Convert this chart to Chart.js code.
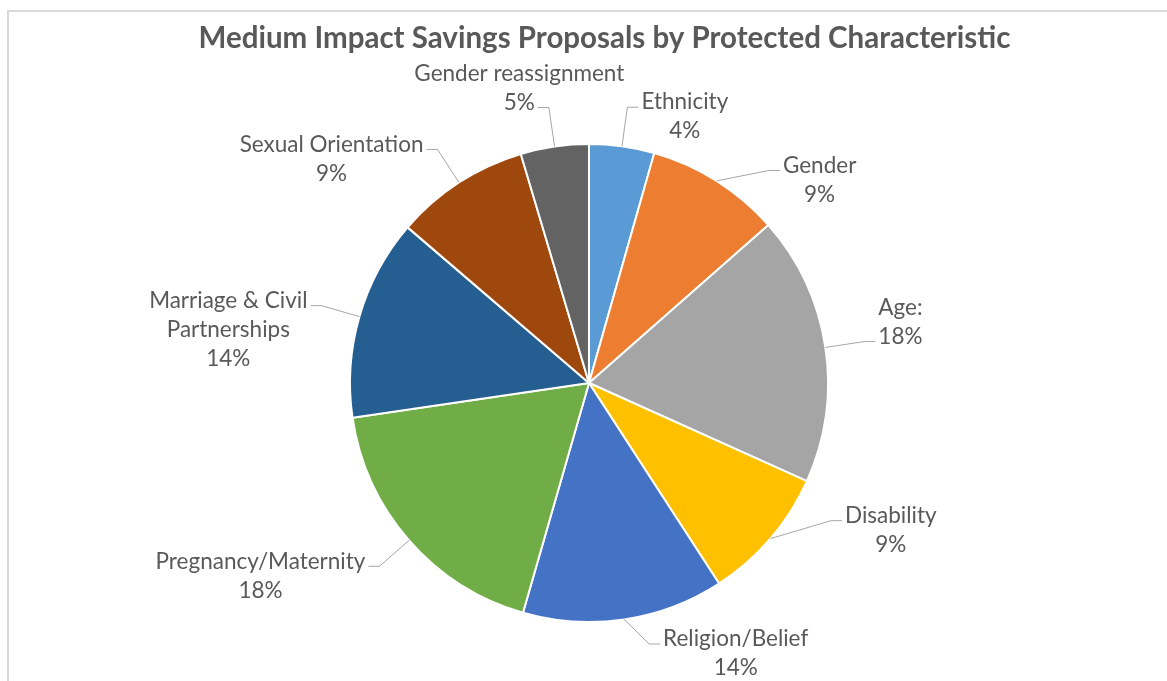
<!DOCTYPE html>
<html>
<head>
<meta charset="utf-8">
<script src="https://cdn.jsdelivr.net/npm/chart.js@4.4.0/dist/chart.umd.min.js"></script>
<style>
  body { margin: 0; background: #fff; }
  #frame { position: absolute; left: 7px; top: 10px; width: 1300px; height: 800px; border: 2px solid #d9d9d9; }
  #wrap { position: absolute; left: 0; top: 0; width: 1167px; height: 681px; }
</style>
</head>
<body>
<div id="frame"></div>
<div id="wrap"><canvas id="pie"></canvas></div>
<script>
// Данные графика
const chartTitle = "Medium Impact Savings Proposals by Protected Characteristic";
const categories = [
    "Ethnicity",
    "Gender",
    "Age:",
    "Disability",
    "Religion/Belief",
    "Pregnancy/Maternity",
    ["Marriage & Civil", "Partnerships"],
    "Sexual Orientation",
    "Gender reassignment",
];
const shares = [4.4, 9.1, 18.2, 9.1, 13.6, 18.2, 13.6, 9.1, 4.6];

// Цвета секторов
const sliceColors = [
    "#5b9bd5",
    "#ed7d31",
    "#a5a5a5",
    "#ffc000",
    "#4472c4",
    "#70ad47",
    "#255e91",
    "#9e480e",
    "#636363",
];

// подпись над выноской (true) или под ней (false)
const labelAbove = [false, false, true, false, false, false, false, false, true];
// поворот выноски относительно середины сектора, градусы
const labelTurn = [0, 8, 0, -11, -4, 0, 0, 0, 0];

const textColor = "#595959";
const leaderColor = "#a6a6a6";
const labelFont = "22.5px Lato";
const lineHeight = 29;

// подписи снаружи с линиями-выносками
const outsideLabels = {
    id: "outsideLabels",
    afterDatasetsDraw(chart) {
        const ctx = chart.ctx;
        const meta = chart.getDatasetMeta(0);
        const data = chart.data.datasets[0].data;
        const total = data.reduce((a, b) => a + b, 0);

        ctx.save();
        ctx.font = labelFont;
        ctx.textAlign = "center";
        ctx.textBaseline = "middle";

        meta.data.forEach((arc, i) => {
            const p = arc.getProps(["x", "y", "startAngle", "endAngle", "outerRadius"], true);
            const mid = (p.startAngle + p.endAngle) / 2;
            const turn = mid + (labelTurn[i] * Math.PI) / 180;
            const right = Math.cos(turn) >= 0;
            const name = chart.data.labels[i];
            const lines = (Array.isArray(name) ? name : [name]).concat(
                Math.round((data[i] / total) * 100) + "%"
            );
            const widths = lines.map((t) => ctx.measureText(t).width);

            const sx = p.x + Math.cos(mid) * p.outerRadius;
            const sy = p.y + Math.sin(mid) * p.outerRadius;
            const bx = p.x + Math.cos(turn) * p.outerRadius * 1.165;
            let by = p.y + Math.sin(turn) * p.outerRadius * 1.165;
            const tx = bx + (right ? 11 : -11);

            const k = labelAbove[i] ? lines.length - 1 : 0;
            const cx = right ? tx + 3 + widths[k] / 2 : tx - 3 - widths[k] / 2;
            let y0 = by - 5 - k * lineHeight;
            // не выходить за нижний край
            const lastY = y0 + (lines.length - 1) * lineHeight;
            const maxY = chart.height - 13;
            if (lastY > maxY) {
                y0 -= lastY - maxY;
                by -= lastY - maxY;
            }

            ctx.strokeStyle = leaderColor;
            ctx.lineWidth = 1;
            ctx.beginPath();
            ctx.moveTo(sx, sy);
            ctx.lineTo(bx, by);
            ctx.lineTo(tx, by);
            ctx.stroke();

            ctx.fillStyle = textColor;
            lines.forEach((t, j) => {
                ctx.fillText(t, cx, y0 + j * lineHeight);
            });
        });

        // заголовок
        ctx.font = "bold 29.5px Lato";
        ctx.fillStyle = textColor;
        ctx.fillText(chartTitle, chart.width / 2 + 21, 38);
        ctx.restore();
    },
};

new Chart(document.getElementById("pie"), {
    type: "pie",
    data: {
        labels: categories,
        datasets: [
            {
                data: shares,
                backgroundColor: sliceColors,
                borderColor: "#ffffff",
                borderWidth: 2,
            },
        ],
    },
    options: {
        responsive: true,
        maintainAspectRatio: false,
        animation: false,
        layout: {
            padding: { left: 100, right: 89, top: 143, bottom: 58 },
        },
        plugins: {
            legend: { display: false },
            tooltip: { enabled: false },
        },
    },
    plugins: [outsideLabels],
});
</script>
</body>
</html>
